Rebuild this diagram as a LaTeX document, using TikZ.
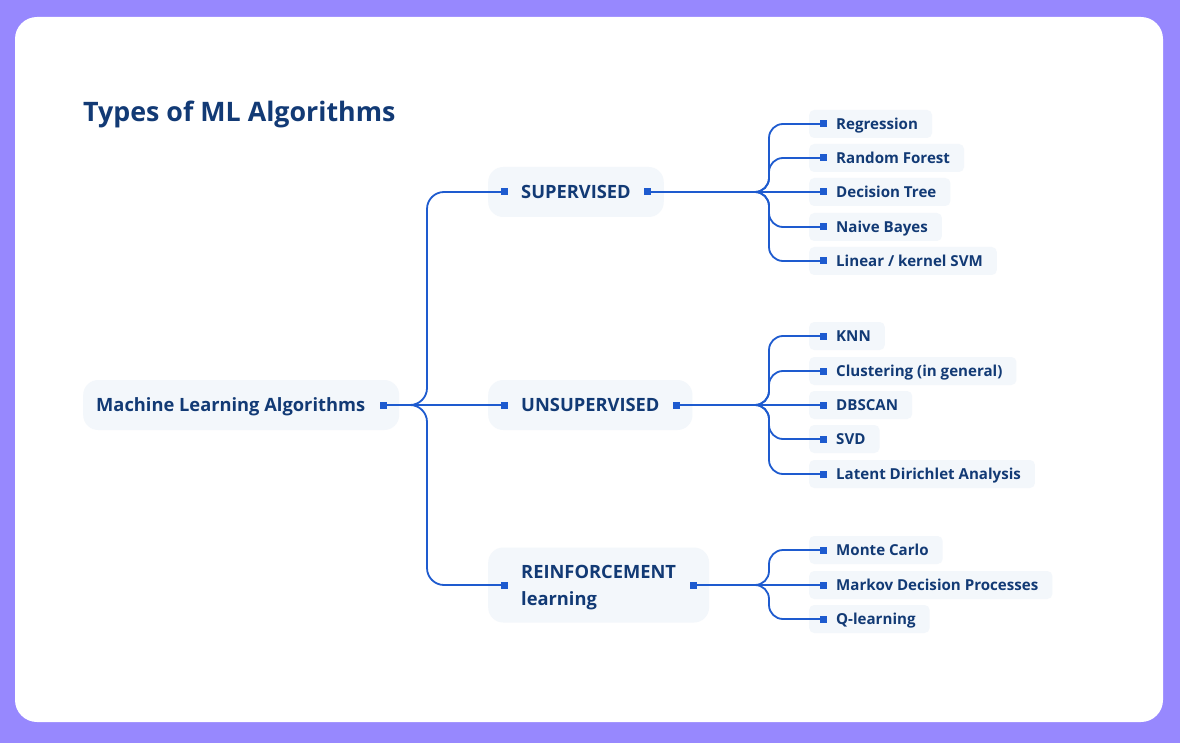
\documentclass[tikz,border=0pt]{standalone}
\usepackage{fontspec}
\setmainfont{Open Sans}
\definecolor{navy}{HTML}{123A75}
\definecolor{linkblue}{HTML}{1E5BCF}
\definecolor{boxfill}{HTML}{F3F7FB}
\definecolor{framebg}{HTML}{9788FE}

\begin{document}
\begin{tikzpicture}[x=1pt, y=-1pt, >=latex, font=\fontsize{18.3}{27}\selectfont\bfseries, text=navy]
    % Define block styles
    \tikzstyle{block} = [fill=boxfill, rectangle, rounded corners=15pt, minimum height=50pt, inner xsep=33pt, text height=13pt, text depth=0pt, anchor=west]
    \tikzstyle{leaf} = [fill=boxfill, rectangle, rounded corners=5pt, minimum height=28pt, inner xsep=14pt, text height=10.8pt, text depth=0pt, anchor=west, font=\fontsize{15.1}{18}\selectfont\bfseries]
    \tikzstyle{dotsq} = [fill=linkblue, rectangle, inner sep=0pt, minimum size=7pt]
    \tikzstyle{link} = [draw=linkblue, line width=1.8pt, rounded corners=17pt]

    % Card
    \fill[framebg] (0,0) rectangle (1180,743);
    \fill[white, rounded corners=22pt] (15,17) rectangle (1163,722);

    % Nodes
    \node[anchor=west, inner sep=0pt, text height=19pt, text depth=0pt, font=\fontsize{26.8}{32}\selectfont\bfseries] (title) at (83,112) {Types of ML Algorithms};

    \node[block, inner xsep=13pt] (root) at (83,405) {Machine Learning Algorithms\hspace*{21pt}};
    \node[dotsq] (rootr) at ([xshift=-16pt]root.east) {};

    \node[block] (sup) at (488,192) {SUPERVISED};
    \node[dotsq] (supl) at ([xshift=16pt]sup.west) {};
    \node[dotsq] (supr) at ([xshift=-16pt]sup.east) {};

    \node[block] (uns) at (488,405) {UNSUPERVISED};
    \node[dotsq] (unsl) at ([xshift=16pt]uns.west) {};
    \node[dotsq] (unsr) at ([xshift=-16pt]uns.east) {};

    \node[block, align=left, text height=40pt, minimum height=75pt] (rei) at (488,585) {REINFORCEMENT\\learning};
    \node[dotsq] (reil) at ([xshift=16pt]rei.west) {};
    \node[dotsq] (reir) at ([xshift=-16pt]rei.east) {};

    % Supervised leaves
    \node[leaf] (reg) at (809,124) {\hspace*{13pt}Regression};
    \node[dotsq] (regm) at ([xshift=14pt]reg.west) {};
    \node[leaf] (forest) at (809,158) {\hspace*{13pt}Random Forest};
    \node[dotsq] (forestm) at ([xshift=14pt]forest.west) {};
    \node[leaf] (tree) at (809,192) {\hspace*{13pt}Decision Tree};
    \node[dotsq] (treem) at ([xshift=14pt]tree.west) {};
    \node[leaf] (bayes) at (809,227) {\hspace*{13pt}Naive Bayes};
    \node[dotsq] (bayesm) at ([xshift=14pt]bayes.west) {};
    \node[leaf] (svm) at (809,261) {\hspace*{13pt}Linear / kernel SVM};
    \node[dotsq] (svmm) at ([xshift=14pt]svm.west) {};

    % Unsupervised leaves
    \node[leaf] (knn) at (809,336) {\hspace*{13pt}KNN};
    \node[dotsq] (knnm) at ([xshift=14pt]knn.west) {};
    \node[leaf] (clus) at (809,371) {\hspace*{13pt}Clustering (in general)};
    \node[dotsq] (clusm) at ([xshift=14pt]clus.west) {};
    \node[leaf] (dbscan) at (809,405) {\hspace*{13pt}DBSCAN};
    \node[dotsq] (dbscanm) at ([xshift=14pt]dbscan.west) {};
    \node[leaf] (svd) at (809,439) {\hspace*{13pt}SVD};
    \node[dotsq] (svdm) at ([xshift=14pt]svd.west) {};
    \node[leaf] (lda) at (809,474) {\hspace*{13pt}Latent Dirichlet Analysis};
    \node[dotsq] (ldam) at ([xshift=14pt]lda.west) {};

    % Reinforcement leaves
    \node[leaf] (monte) at (809,550) {\hspace*{13pt}Monte Carlo};
    \node[dotsq] (montem) at ([xshift=14pt]monte.west) {};
    \node[leaf] (mdp) at (809,585) {\hspace*{13pt}Markov Decision Processes};
    \node[dotsq] (mdpm) at ([xshift=14pt]mdp.west) {};
    \node[leaf] (qlearn) at (809,619) {\hspace*{13pt}Q-learning};
    \node[dotsq] (qlearnm) at ([xshift=14pt]qlearn.west) {};

    % Forks
    \coordinate (rootfork) at (427,405);
    \coordinate (supfork) at (769,192);
    \coordinate (unsfork) at (769,405);
    \coordinate (reifork) at (769,585);

    % Connections
    \draw[link] (rootr.center) -| (rootfork |- supl) -- (supl.center);
    \draw[link] (rootr.center) -- (unsl.center);
    \draw[link] (rootr.center) -| (rootfork |- reil) -- (reil.center);

    \draw[link, rounded corners=14pt] (supr.center) -| (supfork |- regm) -- (regm.center);
    \draw[link, rounded corners=14pt] (supr.center) -| (supfork |- forestm) -- (forestm.center);
    \draw[link] (supr.center) -- (treem.center);
    \draw[link, rounded corners=14pt] (supr.center) -| (supfork |- bayesm) -- (bayesm.center);
    \draw[link, rounded corners=14pt] (supr.center) -| (supfork |- svmm) -- (svmm.center);

    \draw[link, rounded corners=14pt] (unsr.center) -| (unsfork |- knnm) -- (knnm.center);
    \draw[link, rounded corners=14pt] (unsr.center) -| (unsfork |- clusm) -- (clusm.center);
    \draw[link] (unsr.center) -- (dbscanm.center);
    \draw[link, rounded corners=14pt] (unsr.center) -| (unsfork |- svdm) -- (svdm.center);
    \draw[link, rounded corners=14pt] (unsr.center) -| (unsfork |- ldam) -- (ldam.center);

    \draw[link, rounded corners=14pt] (reir.center) -| (reifork |- montem) -- (montem.center);
    \draw[link] (reir.center) -- (mdpm.center);
    \draw[link, rounded corners=14pt] (reir.center) -| (reifork |- qlearnm) -- (qlearnm.center);
\end{tikzpicture}
\end{document}
